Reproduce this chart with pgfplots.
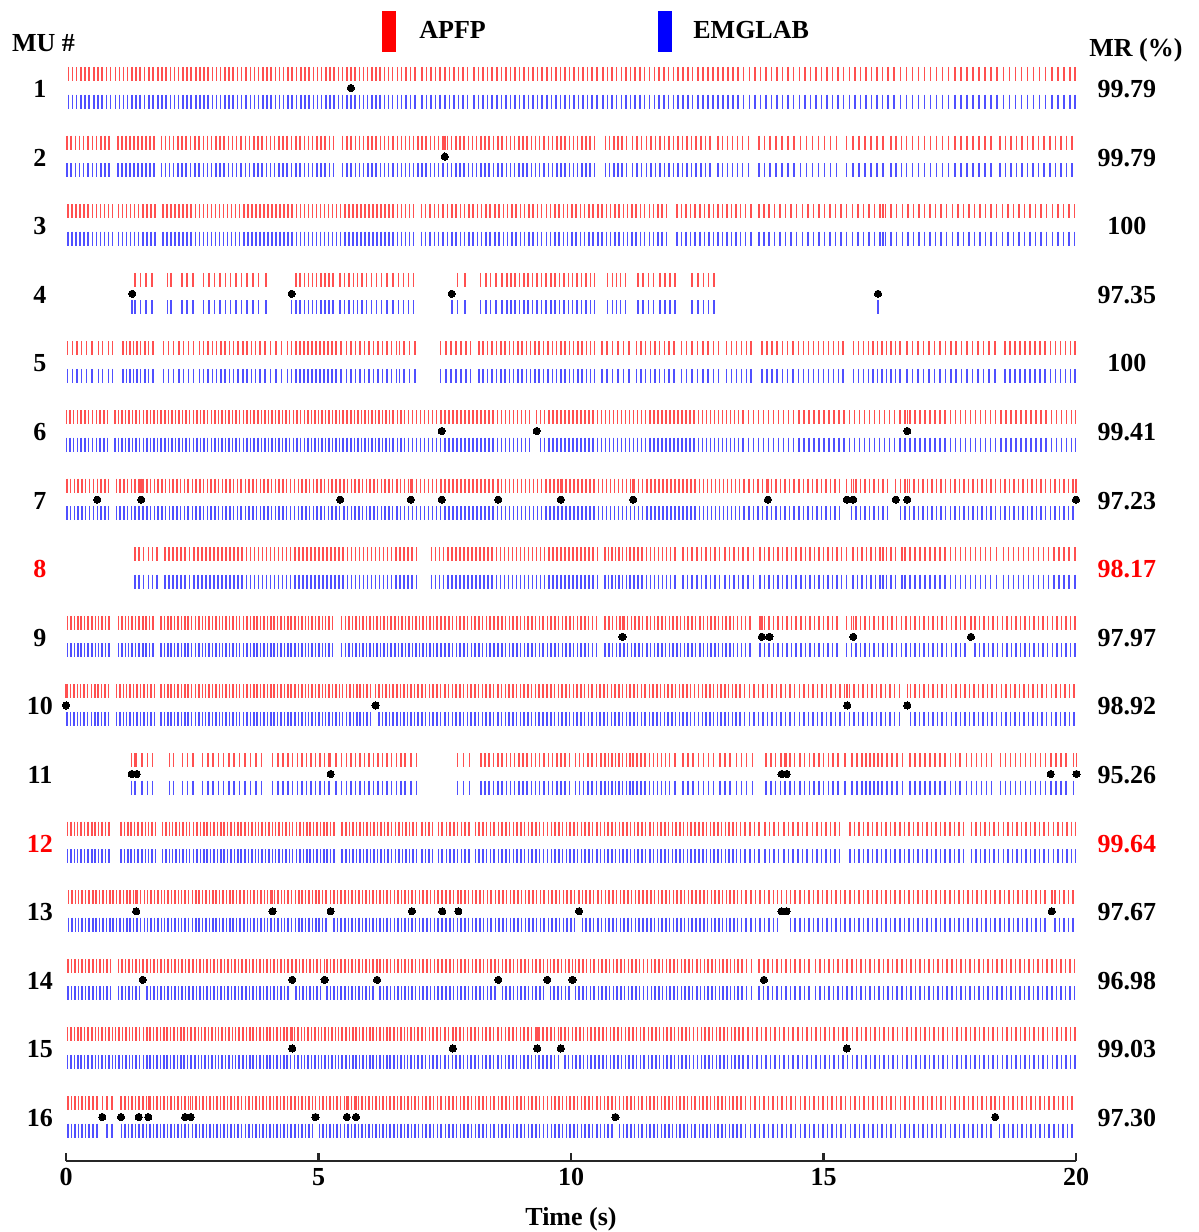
\documentclass[border=0pt]{standalone}
\usepackage{fontspec}
\setmainfont{Liberation Serif}
\usepackage{pgfplots}
\usepackage{pgfplotstable}
\pgfplotsset{compat=1.18}
\newcommand{\lf}{\fontsize{13}{15}\selectfont\bfseries}
\definecolor{tickred}{RGB}{255,80,80}
\definecolor{tickblue}{RGB}{80,80,255}
% spike times in centiseconds (1 unit = 0.01 s)
\pgfplotstableread[row sep=\\]{t\\5\\13\\21\\30\\38\\46\\55\\63\\71\\80\\88\\98\\106\\114\\122\\131\\139\\147\\155\\164\\172\\182\\190\\198\\207\\215\\223\\232\\240\\248\\257\\265\\273\\281\\290\\298\\306\\315\\323\\331\\340\\348\\356\\365\\373\\381\\390\\398\\406\\415\\423\\431\\440\\448\\456\\465\\473\\481\\490\\498\\506\\515\\523\\531\\540\\548\\556\\564\\572\\581\\589\\597\\606\\614\\622\\631\\639\\647\\656\\664\\673\\682\\691\\705\\714\\723\\732\\741\\750\\759\\768\\777\\786\\795\\808\\817\\826\\835\\844\\853\\862\\871\\880\\889\\898\\907\\916\\925\\934\\943\\952\\961\\970\\979\\988\\997\\1006\\1015\\1024\\1033\\1042\\1051\\1063\\1072\\1081\\1090\\1100\\1109\\1118\\1127\\1137\\1146\\1155\\1165\\1174\\1184\\1193\\1203\\1212\\1222\\1232\\1241\\1251\\1261\\1271\\1281\\1291\\1301\\1311\\1321\\1331\\1342\\1353\\1364\\1375\\1386\\1397\\1408\\1419\\1430\\1441\\1452\\1463\\1474\\1485\\1496\\1507\\1518\\1529\\1540\\1551\\1562\\1573\\1584\\1595\\1606\\1617\\1628\\1640\\1652\\1664\\1676\\1688\\1700\\1712\\1724\\1736\\1748\\1760\\1772\\1784\\1796\\1808\\1820\\1832\\1844\\1856\\1868\\1880\\1892\\1904\\1916\\1928\\1940\\1952\\1964\\1976\\1988\\1998\\}\muA
\pgfplotstableread[row sep=\\]{t\\2\\10\\19\\27\\35\\44\\52\\60\\69\\77\\85\\103\\111\\119\\127\\135\\143\\150\\158\\166\\174\\189\\197\\205\\213\\222\\230\\238\\247\\255\\263\\272\\280\\288\\297\\305\\313\\322\\330\\338\\347\\355\\363\\372\\380\\388\\397\\405\\413\\422\\430\\438\\447\\455\\463\\472\\480\\488\\497\\505\\513\\522\\530\\548\\556\\564\\573\\581\\589\\598\\606\\614\\623\\631\\639\\648\\656\\664\\672\\680\\688\\697\\705\\713\\722\\730\\738\\747\\755\\763\\772\\780\\788\\797\\805\\813\\822\\830\\838\\847\\855\\863\\872\\880\\888\\897\\905\\913\\922\\930\\938\\947\\955\\963\\972\\980\\988\\997\\1005\\1013\\1022\\1030\\1038\\1047\\1068\\1076\\1085\\1093\\1101\\1110\\1122\\1131\\1140\\1149\\1158\\1167\\1176\\1185\\1194\\1203\\1212\\1221\\1230\\1239\\1248\\1257\\1266\\1275\\1291\\1300\\1310\\1320\\1330\\1340\\1351\\1372\\1383\\1394\\1406\\1418\\1430\\1442\\1454\\1466\\1478\\1490\\1502\\1514\\1526\\1546\\1558\\1570\\1582\\1594\\1606\\1618\\1634\\1644\\1654\\1664\\1676\\1688\\1700\\1712\\1724\\1736\\1748\\1760\\1772\\1784\\1796\\1808\\1820\\1832\\1849\\1860\\1871\\1882\\1893\\1904\\1915\\1926\\1937\\1948\\1959\\1970\\1981\\1992\\}\muB
\pgfplotstableread[row sep=\\]{t\\4\\12\\20\\28\\36\\44\\52\\60\\68\\76\\84\\92\\104\\112\\120\\128\\136\\144\\152\\160\\168\\176\\192\\200\\208\\216\\224\\232\\240\\248\\256\\264\\272\\280\\288\\296\\304\\312\\320\\328\\336\\344\\352\\360\\368\\376\\384\\392\\400\\408\\416\\424\\432\\440\\448\\456\\464\\472\\480\\488\\496\\504\\512\\520\\528\\536\\544\\552\\560\\568\\576\\584\\592\\600\\608\\616\\624\\632\\640\\648\\656\\664\\672\\680\\688\\704\\712\\721\\730\\738\\747\\755\\764\\772\\781\\789\\798\\806\\815\\823\\832\\840\\849\\857\\866\\874\\883\\891\\900\\908\\917\\925\\934\\942\\951\\959\\968\\976\\985\\993\\1002\\1010\\1019\\1027\\1036\\1044\\1053\\1061\\1070\\1078\\1087\\1095\\1104\\1112\\1121\\1129\\1138\\1146\\1155\\1163\\1172\\1180\\1189\\1210\\1219\\1228\\1237\\1246\\1255\\1264\\1273\\1282\\1291\\1300\\1309\\1318\\1327\\1336\\1346\\1356\\1372\\1382\\1392\\1403\\1414\\1425\\1436\\1447\\1458\\1469\\1480\\1491\\1502\\1513\\1524\\1535\\1546\\1557\\1568\\1579\\1590\\1601\\1612\\1618\\1623\\1634\\1645\\1656\\1667\\1678\\1689\\1700\\1711\\1722\\1733\\1744\\1755\\1766\\1777\\1788\\1799\\1810\\1821\\1832\\1843\\1854\\1865\\1876\\1887\\1898\\1909\\1920\\1931\\1942\\1953\\1964\\1975\\1986\\1997\\}\muC
\pgfplotstableread[row sep=\\]{t\\137\\148\\158\\170\\201\\208\\230\\240\\251\\272\\283\\294\\305\\316\\326\\337\\348\\358\\370\\381\\396\\455\\463\\472\\480\\488\\496\\505\\513\\521\\529\\543\\551\\560\\569\\577\\586\\595\\605\\615\\625\\636\\648\\658\\668\\678\\688\\775\\790\\821\\832\\841\\851\\863\\873\\881\\889\\898\\907\\915\\924\\933\\942\\950\\960\\968\\977\\986\\995\\1003\\1012\\1021\\1030\\1039\\1047\\1072\\1082\\1090\\1098\\1108\\1133\\1143\\1153\\1163\\1176\\1186\\1196\\1206\\1240\\1251\\1262\\1272\\1283\\}\muD
\pgfplotstableread[row sep=\\]{t\\3\\13\\22\\31\\41\\51\\64\\72\\84\\92\\113\\120\\127\\134\\141\\148\\156\\163\\172\\193\\203\\213\\224\\233\\243\\252\\264\\272\\281\\290\\298\\307\\315\\324\\332\\341\\350\\358\\367\\375\\384\\394\\405\\416\\427\\439\\447\\455\\463\\471\\479\\487\\495\\503\\511\\519\\527\\535\\545\\555\\564\\573\\582\\591\\600\\609\\618\\627\\636\\645\\654\\660\\669\\680\\691\\742\\752\\762\\772\\782\\792\\801\\818\\826\\835\\844\\852\\861\\869\\878\\886\\895\\903\\912\\920\\929\\937\\946\\954\\963\\971\\980\\988\\997\\1005\\1014\\1022\\1031\\1039\\1047\\1061\\1071\\1082\\1093\\1104\\1115\\1130\\1139\\1148\\1157\\1166\\1175\\1185\\1194\\1204\\1219\\1229\\1240\\1250\\1261\\1271\\1282\\1292\\1308\\1318\\1328\\1338\\1348\\1356\\1378\\1388\\1398\\1408\\1419\\1429\\1440\\1450\\1460\\1470\\1480\\1490\\1500\\1510\\1520\\1530\\1539\\1559\\1569\\1579\\1589\\1598\\1607\\1616\\1625\\1634\\1643\\1651\\1665\\1676\\1687\\1698\\1709\\1720\\1731\\1742\\1752\\1762\\1773\\1784\\1795\\1806\\1817\\1828\\1840\\1859\\1869\\1879\\1889\\1899\\1909\\1919\\1929\\1939\\1949\\1959\\1969\\1979\\1989\\1998\\}\muE
\pgfplotstableread[row sep=\\]{t\\1\\8\\15\\23\\30\\38\\45\\52\\60\\67\\75\\82\\97\\104\\111\\118\\125\\132\\139\\146\\153\\160\\167\\174\\181\\188\\196\\203\\210\\217\\224\\231\\238\\245\\252\\259\\266\\273\\280\\288\\295\\302\\309\\316\\323\\330\\337\\344\\351\\358\\365\\372\\380\\387\\394\\401\\408\\415\\422\\429\\436\\443\\450\\457\\464\\472\\479\\486\\493\\500\\507\\514\\521\\528\\535\\542\\549\\556\\564\\571\\578\\585\\592\\599\\606\\613\\620\\627\\634\\641\\648\\656\\663\\670\\678\\686\\694\\702\\710\\718\\726\\734\\742\\750\\758\\766\\774\\782\\790\\798\\806\\814\\822\\830\\838\\846\\854\\862\\870\\878\\886\\894\\902\\910\\918\\940\\948\\956\\964\\972\\980\\988\\996\\1004\\1012\\1020\\1028\\1036\\1044\\1052\\1060\\1068\\1076\\1084\\1092\\1100\\1108\\1116\\1124\\1132\\1140\\1148\\1156\\1164\\1172\\1180\\1188\\1196\\1204\\1212\\1220\\1228\\1236\\1244\\1252\\1260\\1268\\1276\\1284\\1292\\1300\\1308\\1316\\1324\\1332\\1341\\1351\\1361\\1371\\1381\\1391\\1401\\1411\\1421\\1431\\1441\\1451\\1461\\1471\\1481\\1491\\1501\\1511\\1521\\1531\\1541\\1551\\1561\\1571\\1581\\1591\\1601\\1611\\1621\\1631\\1641\\1651\\1661\\1671\\1681\\1691\\1701\\1711\\1721\\1731\\1741\\1751\\1761\\1771\\1781\\1791\\1801\\1811\\1821\\1831\\1841\\1851\\1861\\1871\\1881\\1891\\1901\\1911\\1921\\1931\\1941\\1951\\1961\\1971\\1981\\1991\\1999\\}\muF
\pgfplotstableread[row sep=\\]{t\\2\\9\\17\\24\\32\\39\\47\\54\\62\\69\\77\\84\\100\\107\\115\\122\\130\\137\\145\\152\\160\\167\\175\\182\\190\\197\\205\\212\\220\\227\\235\\242\\250\\257\\265\\272\\280\\287\\295\\302\\310\\317\\325\\332\\340\\347\\355\\362\\370\\377\\385\\392\\400\\407\\415\\422\\430\\437\\445\\452\\460\\467\\475\\482\\490\\497\\505\\512\\520\\527\\535\\542\\550\\557\\565\\572\\580\\587\\595\\602\\610\\617\\625\\632\\640\\647\\655\\662\\670\\678\\686\\694\\702\\710\\718\\726\\734\\742\\750\\758\\766\\774\\782\\790\\798\\806\\814\\822\\830\\838\\846\\854\\862\\870\\878\\886\\894\\902\\910\\918\\926\\934\\942\\950\\958\\966\\974\\982\\990\\998\\1006\\1014\\1022\\1030\\1038\\1046\\1054\\1062\\1070\\1078\\1086\\1094\\1102\\1110\\1118\\1126\\1134\\1142\\1150\\1158\\1166\\1174\\1182\\1190\\1198\\1206\\1214\\1222\\1230\\1238\\1246\\1254\\1262\\1270\\1278\\1286\\1294\\1302\\1310\\1318\\1326\\1334\\1343\\1352\\1361\\1370\\1379\\1388\\1397\\1406\\1415\\1424\\1433\\1442\\1451\\1460\\1469\\1478\\1487\\1496\\1505\\1514\\1523\\1532\\1555\\1564\\1573\\1582\\1591\\1600\\1609\\1618\\1627\\1652\\1661\\1670\\1679\\1688\\1697\\1706\\1715\\1724\\1733\\1742\\1751\\1760\\1769\\1778\\1787\\1796\\1805\\1814\\1823\\1832\\1841\\1850\\1859\\1868\\1877\\1886\\1895\\1904\\1913\\1922\\1931\\1940\\1949\\1958\\1967\\1976\\1985\\1994\\}\muG
\pgfplotstableread[row sep=\\]{t\\137\\145\\153\\163\\171\\180\\196\\204\\212\\220\\228\\236\\245\\253\\261\\269\\277\\285\\293\\301\\309\\317\\325\\333\\341\\349\\357\\365\\373\\381\\389\\397\\405\\413\\421\\429\\437\\445\\453\\461\\469\\477\\485\\493\\501\\509\\517\\525\\533\\541\\549\\557\\565\\573\\581\\589\\597\\605\\613\\621\\629\\637\\645\\653\\661\\669\\677\\685\\694\\724\\732\\740\\748\\756\\764\\772\\780\\788\\796\\804\\812\\820\\828\\836\\844\\852\\860\\868\\876\\884\\892\\900\\908\\916\\924\\932\\940\\948\\956\\964\\972\\980\\988\\996\\1004\\1012\\1020\\1028\\1036\\1044\\1052\\1067\\1074\\1081\\1088\\1095\\1102\\1110\\1117\\1125\\1133\\1141\\1149\\1157\\1165\\1173\\1181\\1189\\1197\\1206\\1222\\1231\\1240\\1249\\1258\\1267\\1276\\1285\\1294\\1305\\1314\\1323\\1332\\1341\\1350\\1361\\1374\\1383\\1392\\1401\\1410\\1419\\1428\\1437\\1446\\1455\\1464\\1473\\1482\\1491\\1500\\1509\\1518\\1527\\1536\\1546\\1558\\1567\\1576\\1585\\1594\\1603\\1612\\1618\\1625\\1634\\1643\\1655\\1661\\1671\\1681\\1691\\1701\\1711\\1721\\1731\\1741\\1751\\1761\\1771\\1781\\1791\\1801\\1811\\1821\\1831\\1843\\1856\\1866\\1876\\1886\\1896\\1906\\1916\\1926\\1936\\1946\\1956\\1966\\1976\\1986\\1998\\}\muH
\pgfplotstableread[row sep=\\]{t\\3\\10\\17\\24\\30\\37\\44\\51\\58\\64\\71\\78\\85\\104\\111\\118\\124\\131\\138\\145\\152\\158\\165\\172\\188\\195\\202\\208\\215\\222\\229\\236\\242\\249\\256\\263\\270\\276\\283\\290\\297\\304\\310\\317\\324\\331\\338\\344\\351\\358\\365\\372\\378\\385\\392\\399\\406\\412\\419\\426\\433\\440\\446\\453\\460\\467\\474\\480\\487\\494\\501\\508\\514\\521\\528\\546\\553\\560\\567\\574\\581\\588\\595\\602\\609\\616\\623\\630\\637\\644\\651\\658\\665\\672\\679\\686\\693\\700\\707\\714\\721\\728\\735\\743\\750\\758\\765\\773\\780\\788\\795\\803\\810\\818\\825\\833\\840\\848\\855\\863\\870\\878\\885\\893\\900\\908\\915\\923\\930\\938\\945\\953\\960\\968\\975\\983\\990\\998\\1005\\1013\\1020\\1028\\1035\\1043\\1050\\1067\\1075\\1082\\1090\\1097\\1105\\1112\\1120\\1127\\1135\\1142\\1150\\1157\\1165\\1172\\1180\\1187\\1195\\1202\\1210\\1217\\1225\\1232\\1240\\1247\\1255\\1262\\1270\\1277\\1285\\1292\\1300\\1307\\1315\\1322\\1330\\1338\\1346\\1354\\1374\\1383\\1392\\1401\\1410\\1419\\1428\\1437\\1446\\1455\\1464\\1473\\1482\\1491\\1500\\1509\\1518\\1527\\1546\\1555\\1564\\1573\\1582\\1591\\1600\\1609\\1618\\1627\\1636\\1645\\1654\\1663\\1672\\1681\\1690\\1699\\1708\\1717\\1726\\1735\\1744\\1753\\1762\\1771\\1780\\1800\\1809\\1818\\1827\\1836\\1845\\1854\\1863\\1872\\1881\\1890\\1899\\1908\\1917\\1926\\1935\\1944\\1953\\1962\\1971\\1980\\1989\\1998\\}\muI
\pgfplotstableread[row sep=\\]{t\\2\\9\\16\\23\\29\\36\\43\\50\\57\\63\\70\\77\\84\\100\\107\\114\\120\\127\\134\\141\\148\\154\\161\\168\\175\\188\\195\\202\\208\\215\\222\\229\\236\\242\\249\\256\\263\\270\\276\\283\\290\\297\\304\\310\\317\\324\\331\\338\\344\\351\\358\\365\\372\\378\\385\\392\\399\\406\\412\\419\\426\\433\\440\\446\\453\\460\\467\\474\\480\\487\\494\\501\\508\\514\\521\\528\\535\\542\\548\\555\\562\\569\\576\\582\\589\\596\\603\\620\\627\\634\\641\\648\\655\\662\\669\\676\\683\\690\\697\\705\\712\\720\\727\\735\\742\\750\\757\\765\\772\\780\\787\\795\\802\\810\\817\\825\\832\\840\\847\\855\\862\\870\\877\\885\\892\\900\\907\\915\\922\\930\\937\\945\\952\\960\\967\\975\\982\\990\\997\\1005\\1012\\1020\\1027\\1035\\1042\\1050\\1057\\1065\\1072\\1080\\1087\\1095\\1102\\1110\\1117\\1125\\1132\\1140\\1147\\1155\\1162\\1170\\1177\\1185\\1192\\1200\\1207\\1215\\1222\\1230\\1237\\1245\\1252\\1260\\1267\\1275\\1282\\1290\\1297\\1305\\1312\\1320\\1327\\1335\\1344\\1353\\1362\\1371\\1380\\1389\\1398\\1407\\1416\\1425\\1434\\1443\\1452\\1461\\1470\\1479\\1488\\1497\\1506\\1515\\1524\\1533\\1542\\1551\\1560\\1569\\1578\\1587\\1596\\1605\\1614\\1623\\1632\\1641\\1650\\1672\\1681\\1690\\1699\\1708\\1717\\1726\\1735\\1744\\1753\\1762\\1771\\1780\\1789\\1798\\1807\\1816\\1825\\1834\\1843\\1852\\1861\\1870\\1879\\1888\\1897\\1906\\1915\\1924\\1933\\1942\\1951\\1960\\1969\\1978\\1987\\1996\\}\muJ
\pgfplotstableread[row sep=\\]{t\\130\\137\\150\\161\\171\\205\\213\\231\\241\\251\\270\\281\\291\\302\\312\\323\\333\\344\\354\\365\\376\\387\\409\\420\\430\\440\\449\\458\\467\\476\\485\\494\\503\\512\\521\\535\\546\\555\\564\\573\\582\\591\\600\\609\\618\\627\\636\\645\\654\\663\\671\\683\\694\\775\\787\\799\\822\\830\\838\\847\\855\\863\\872\\880\\888\\897\\905\\913\\922\\930\\938\\947\\955\\963\\972\\980\\988\\997\\1009\\1017\\1025\\1034\\1042\\1050\\1059\\1067\\1074\\1081\\1088\\1095\\1102\\1110\\1117\\1123\\1131\\1139\\1147\\1155\\1163\\1171\\1179\\1187\\1195\\1206\\1222\\1232\\1242\\1252\\1262\\1272\\1282\\1295\\1305\\1315\\1328\\1338\\1348\\1359\\1386\\1396\\1405\\1415\\1424\\1434\\1443\\1453\\1462\\1472\\1481\\1491\\1500\\1510\\1519\\1529\\1543\\1556\\1566\\1576\\1584\\1592\\1600\\1608\\1616\\1626\\1636\\1646\\1656\\1671\\1681\\1691\\1701\\1711\\1721\\1731\\1741\\1751\\1761\\1770\\1783\\1793\\1803\\1813\\1823\\1833\\1850\\1860\\1870\\1880\\1890\\1900\\1910\\1920\\1930\\1940\\1950\\1960\\1970\\1980\\1995\\}\muK
\pgfplotstableread[row sep=\\]{t\\3\\10\\17\\23\\30\\37\\44\\51\\57\\64\\71\\78\\85\\109\\116\\123\\129\\136\\143\\150\\157\\163\\170\\177\\191\\198\\205\\211\\218\\225\\232\\239\\245\\252\\259\\266\\273\\279\\286\\293\\300\\307\\313\\320\\327\\334\\341\\347\\354\\361\\368\\375\\381\\388\\395\\402\\409\\415\\422\\429\\436\\443\\449\\456\\463\\470\\477\\483\\490\\497\\504\\511\\517\\524\\531\\547\\554\\561\\568\\575\\582\\589\\596\\603\\610\\617\\624\\631\\638\\645\\652\\659\\666\\673\\680\\687\\694\\705\\712\\719\\726\\738\\745\\753\\760\\768\\775\\783\\790\\798\\811\\818\\826\\833\\841\\848\\856\\863\\871\\878\\886\\893\\901\\908\\916\\923\\931\\938\\946\\953\\961\\968\\976\\983\\991\\998\\1006\\1013\\1021\\1028\\1036\\1043\\1051\\1058\\1066\\1073\\1081\\1088\\1096\\1103\\1111\\1118\\1126\\1133\\1141\\1148\\1156\\1163\\1171\\1178\\1186\\1193\\1201\\1208\\1216\\1223\\1231\\1238\\1246\\1253\\1261\\1268\\1276\\1283\\1291\\1298\\1306\\1313\\1321\\1328\\1336\\1345\\1354\\1363\\1372\\1384\\1393\\1402\\1411\\1422\\1431\\1440\\1449\\1458\\1467\\1478\\1487\\1496\\1505\\1514\\1523\\1532\\1552\\1561\\1570\\1579\\1588\\1597\\1606\\1615\\1624\\1633\\1642\\1651\\1660\\1669\\1678\\1687\\1696\\1705\\1714\\1723\\1732\\1741\\1750\\1759\\1768\\1777\\1793\\1802\\1811\\1820\\1829\\1838\\1847\\1856\\1865\\1874\\1883\\1892\\1901\\1910\\1919\\1928\\1937\\1946\\1955\\1964\\1973\\1982\\1991\\1999\\}\muL
\pgfplotstableread[row sep=\\]{t\\5\\12\\19\\25\\32\\39\\46\\53\\59\\66\\73\\80\\87\\93\\100\\107\\114\\121\\127\\134\\141\\148\\155\\161\\168\\175\\182\\189\\195\\202\\209\\216\\223\\229\\236\\243\\250\\257\\263\\270\\277\\284\\291\\297\\304\\311\\318\\325\\331\\338\\345\\352\\359\\365\\372\\379\\386\\393\\399\\406\\413\\420\\427\\433\\440\\447\\454\\461\\467\\474\\481\\488\\495\\501\\508\\515\\531\\538\\545\\552\\559\\566\\573\\580\\587\\594\\601\\608\\615\\622\\629\\636\\643\\650\\657\\664\\671\\678\\685\\692\\700\\707\\715\\722\\730\\737\\745\\752\\760\\767\\775\\782\\790\\797\\805\\812\\820\\827\\835\\842\\850\\857\\865\\872\\880\\887\\895\\902\\910\\917\\925\\932\\940\\947\\955\\962\\970\\977\\985\\992\\1000\\1007\\1023\\1030\\1038\\1045\\1053\\1060\\1068\\1075\\1083\\1090\\1098\\1105\\1113\\1120\\1128\\1135\\1143\\1150\\1158\\1165\\1173\\1180\\1188\\1195\\1203\\1210\\1218\\1225\\1233\\1240\\1248\\1255\\1263\\1270\\1278\\1285\\1293\\1300\\1308\\1315\\1323\\1330\\1338\\1347\\1356\\1365\\1374\\1383\\1392\\1401\\1409\\1435\\1444\\1453\\1462\\1471\\1480\\1489\\1498\\1507\\1516\\1525\\1534\\1543\\1552\\1561\\1570\\1579\\1588\\1597\\1606\\1615\\1624\\1633\\1642\\1651\\1660\\1669\\1678\\1687\\1696\\1705\\1714\\1723\\1732\\1741\\1750\\1759\\1768\\1777\\1786\\1795\\1804\\1813\\1822\\1831\\1840\\1849\\1858\\1867\\1876\\1885\\1894\\1903\\1912\\1921\\1930\\1939\\1958\\1967\\1976\\1985\\1994\\}\muM
\pgfplotstableread[row sep=\\]{t\\4\\11\\18\\25\\32\\39\\46\\53\\60\\67\\74\\81\\88\\104\\111\\118\\125\\132\\139\\146\\160\\167\\174\\181\\188\\195\\202\\209\\216\\223\\230\\237\\244\\251\\258\\265\\272\\279\\286\\293\\300\\307\\314\\321\\328\\335\\342\\349\\356\\363\\370\\377\\384\\391\\398\\405\\412\\419\\426\\433\\440\\455\\462\\469\\476\\483\\490\\497\\504\\517\\524\\531\\538\\545\\552\\559\\566\\573\\580\\587\\594\\601\\608\\622\\629\\636\\643\\650\\657\\664\\671\\678\\685\\692\\700\\707\\715\\722\\730\\737\\745\\752\\760\\767\\775\\782\\790\\797\\805\\812\\820\\827\\835\\842\\849\\864\\871\\879\\886\\894\\901\\909\\916\\924\\931\\939\\946\\959\\966\\974\\981\\989\\996\\1009\\1016\\1024\\1031\\1039\\1046\\1054\\1061\\1069\\1076\\1084\\1091\\1099\\1106\\1114\\1121\\1129\\1136\\1144\\1151\\1159\\1166\\1174\\1181\\1189\\1196\\1204\\1211\\1219\\1226\\1234\\1241\\1249\\1256\\1264\\1271\\1279\\1286\\1294\\1301\\1309\\1316\\1324\\1331\\1339\\1348\\1357\\1372\\1381\\1390\\1399\\1408\\1417\\1426\\1435\\1444\\1453\\1462\\1471\\1484\\1493\\1502\\1511\\1520\\1529\\1538\\1547\\1556\\1565\\1574\\1583\\1592\\1601\\1610\\1619\\1628\\1637\\1646\\1655\\1664\\1673\\1682\\1691\\1700\\1709\\1718\\1727\\1736\\1745\\1754\\1763\\1772\\1781\\1790\\1799\\1808\\1817\\1826\\1835\\1844\\1853\\1862\\1871\\1880\\1889\\1898\\1907\\1916\\1925\\1934\\1943\\1952\\1961\\1970\\1979\\1988\\1997\\}\muN
\pgfplotstableread[row sep=\\]{t\\3\\10\\17\\24\\30\\37\\44\\51\\58\\64\\71\\78\\85\\92\\98\\105\\112\\119\\126\\132\\139\\146\\153\\160\\166\\173\\180\\187\\194\\200\\207\\214\\221\\228\\234\\241\\248\\255\\262\\268\\275\\282\\289\\296\\302\\309\\316\\323\\330\\336\\343\\350\\357\\364\\370\\377\\384\\391\\398\\404\\411\\418\\425\\432\\438\\445\\452\\459\\466\\472\\479\\486\\493\\500\\506\\513\\520\\527\\534\\540\\547\\554\\561\\568\\574\\581\\588\\595\\602\\608\\615\\622\\629\\636\\642\\649\\656\\663\\670\\676\\683\\690\\697\\705\\712\\720\\727\\735\\742\\750\\757\\765\\772\\780\\787\\795\\802\\810\\817\\825\\832\\840\\847\\855\\862\\870\\877\\885\\892\\900\\907\\915\\922\\930\\937\\945\\952\\960\\967\\975\\988\\995\\1003\\1010\\1018\\1025\\1033\\1040\\1048\\1055\\1063\\1070\\1078\\1085\\1093\\1100\\1108\\1115\\1123\\1130\\1138\\1145\\1153\\1160\\1168\\1175\\1183\\1190\\1198\\1205\\1213\\1220\\1228\\1235\\1243\\1250\\1258\\1265\\1273\\1280\\1288\\1295\\1303\\1310\\1318\\1325\\1333\\1341\\1350\\1359\\1368\\1377\\1386\\1395\\1404\\1413\\1422\\1431\\1440\\1449\\1458\\1467\\1476\\1485\\1494\\1503\\1512\\1521\\1530\\1539\\1548\\1557\\1566\\1575\\1584\\1593\\1602\\1611\\1620\\1629\\1638\\1647\\1656\\1665\\1674\\1683\\1692\\1701\\1710\\1719\\1728\\1737\\1746\\1755\\1764\\1773\\1782\\1791\\1800\\1809\\1818\\1827\\1836\\1845\\1854\\1863\\1872\\1881\\1890\\1899\\1908\\1917\\1926\\1935\\1944\\1953\\1962\\1971\\1980\\1989\\1998\\}\muO
\pgfplotstableread[row sep=\\]{t\\4\\11\\18\\25\\32\\39\\46\\53\\61\\81\\91\\110\\117\\124\\131\\138\\145\\152\\159\\166\\173\\180\\187\\194\\201\\208\\215\\222\\229\\236\\243\\250\\257\\264\\271\\278\\285\\292\\299\\306\\313\\320\\327\\334\\341\\348\\355\\362\\369\\376\\383\\390\\397\\404\\411\\418\\425\\432\\439\\446\\453\\460\\467\\474\\481\\488\\502\\509\\516\\523\\530\\537\\544\\551\\558\\565\\572\\579\\586\\593\\600\\607\\614\\621\\628\\635\\642\\649\\656\\663\\670\\677\\684\\691\\698\\706\\713\\721\\728\\736\\743\\751\\758\\766\\773\\781\\788\\796\\803\\811\\818\\826\\833\\841\\848\\856\\863\\871\\878\\886\\893\\901\\908\\916\\923\\931\\938\\946\\953\\961\\968\\976\\983\\991\\998\\1006\\1013\\1021\\1028\\1036\\1043\\1051\\1058\\1066\\1073\\1081\\1096\\1104\\1111\\1119\\1126\\1134\\1141\\1149\\1156\\1164\\1171\\1179\\1186\\1194\\1201\\1209\\1216\\1224\\1231\\1239\\1246\\1254\\1261\\1269\\1276\\1284\\1291\\1299\\1306\\1314\\1321\\1329\\1337\\1346\\1355\\1364\\1373\\1382\\1391\\1400\\1409\\1418\\1427\\1436\\1445\\1454\\1463\\1472\\1481\\1490\\1499\\1508\\1517\\1526\\1535\\1544\\1553\\1562\\1571\\1580\\1589\\1598\\1607\\1616\\1625\\1634\\1643\\1652\\1661\\1670\\1679\\1688\\1697\\1706\\1715\\1724\\1733\\1742\\1751\\1760\\1769\\1778\\1787\\1796\\1805\\1814\\1823\\1832\\1848\\1857\\1866\\1875\\1884\\1893\\1902\\1911\\1920\\1929\\1938\\1947\\1956\\1965\\1974\\1983\\1992\\}\muP
% mismatch markers (centiseconds)
\pgfplotstableread[row sep=\\]{t\\564\\}\dA
\pgfplotstableread[row sep=\\]{t\\750\\}\dB
\pgfplotstableread[row sep=\\]{t\\131\\447\\764\\1608\\}\dD
\pgfplotstableread[row sep=\\]{t\\744\\932\\1666\\}\dF
\pgfplotstableread[row sep=\\]{t\\62\\149\\543\\683\\744\\856\\980\\1123\\1390\\1546\\1559\\1643\\1666\\2000\\}\dG
\pgfplotstableread[row sep=\\]{t\\1102\\1378\\1393\\1559\\1792\\}\dI
\pgfplotstableread[row sep=\\]{t\\0\\613\\1547\\1666\\}\dJ
\pgfplotstableread[row sep=\\]{t\\130\\140\\524\\1417\\1427\\1950\\2001\\}\dK
\pgfplotstableread[row sep=\\]{t\\139\\409\\524\\685\\745\\777\\1016\\1417\\1427\\1952\\}\dM
\pgfplotstableread[row sep=\\]{t\\152\\448\\512\\616\\856\\953\\1003\\1382\\}\dN
\pgfplotstableread[row sep=\\]{t\\448\\766\\933\\980\\1546\\}\dO
\pgfplotstableread[row sep=\\]{t\\72\\109\\144\\163\\236\\247\\494\\556\\574\\1088\\1840\\}\dP

\pgfplotsset{
  rtick/.style={only marks, mark=|, mark size=3.5pt, draw=tickred, color=tickred, mark options={draw=tickred, color=tickred, line width=0.75pt}},
  btick/.style={only marks, mark=|, mark size=3.5pt, draw=tickblue, color=tickblue, mark options={draw=tickblue, color=tickblue, line width=0.75pt}},
  dotm/.style={only marks, mark=*, mark size=1.8pt, color=black, mark options={fill=black, draw=black, line width=0pt}},
}
\newcommand{\murow}[2]{%
  \addplot[rtick] table[x index=0, y index=0, y expr={-#1+0.204}] {#2};
  \addplot[btick] table[x index=0, y index=0, y expr={-#1-0.197}] {#2};
}
\newcommand{\mudots}[2]{%
  \addplot[rtick] table[x index=0, y index=0, y expr={-#1+0.204}] {#2};
  \addplot[dotm] table[x index=0, y index=0, y expr={-#1}] {#2};
}
\newcommand{\rowlab}[3]{%
  \node[font=\lf, text=#3, anchor=base, inner sep=0pt] at (axis cs:-51.5,-#1-0.1385) {#1};
  \node[font=\lf, text=#3, anchor=base, inner sep=0pt] at (axis cs:2100.9,-#1-0.1385) {#2};
}

\begin{document}
\begin{tikzpicture}
\begin{axis}[
  scale only axis, width=505pt, height=553.65pt,
  xmin=0, xmax=2000, ymin=-16.641, ymax=-0.5,
  clip=false,
  axis x line*=bottom, axis y line=none,
  ytick=\empty,
  xtick={0,500,1000,1500,2000}, xticklabels={0,5,10,15,20},
  /pgf/number format/assume math mode=true,
  xticklabel style={font=\lf},
  tick align=inside, major tick length=4pt,
  x axis line style={line width=1.3pt, black!85},
  xtick style={line width=1.1pt, black!85},
]
\murow{1}{\muA}\murow{2}{\muB}\murow{3}{\muC}\murow{4}{\muD}
\murow{5}{\muE}\murow{6}{\muF}\murow{7}{\muG}\murow{8}{\muH}
\murow{9}{\muI}\murow{10}{\muJ}\murow{11}{\muK}\murow{12}{\muL}
\murow{13}{\muM}\murow{14}{\muN}\murow{15}{\muO}\murow{16}{\muP}
% row 4: mismatches are EMGLAB-only spikes
\addplot[btick] table[x index=0, y index=0, y expr={-4-0.197}] {\dD};
\addplot[dotm] table[x index=0, y index=0, y expr={-4}] {\dD};
\mudots{1}{\dA}\mudots{2}{\dB}\mudots{6}{\dF}\mudots{7}{\dG}
\mudots{9}{\dI}\mudots{10}{\dJ}\mudots{11}{\dK}\mudots{13}{\dM}
\mudots{14}{\dN}\mudots{15}{\dO}\mudots{16}{\dP}
% row labels and matching rates
\rowlab{1}{99.79}{black}\rowlab{2}{99.79}{black}\rowlab{3}{100}{black}\rowlab{4}{97.35}{black}
\rowlab{5}{100}{black}\rowlab{6}{99.41}{black}\rowlab{7}{97.23}{black}\rowlab{8}{98.17}{red}
\rowlab{9}{97.97}{black}\rowlab{10}{98.92}{black}\rowlab{11}{95.26}{black}\rowlab{12}{99.64}{red}
\rowlab{13}{97.67}{black}\rowlab{14}{96.98}{black}\rowlab{15}{99.03}{black}\rowlab{16}{97.30}{black}
\node[font=\lf, anchor=base, inner sep=0pt] at (axis cs:-44.6,-0.475) {MU \#};
\node[font=\lf, anchor=base, inner sep=0pt] at (axis cs:2118.6,-0.548) {MR (\%)};
\node[font=\lf, anchor=base, inner sep=0pt] at (axis cs:1000,-17.574) {Time (s)};
% legend
\fill[red] (axis cs:625.7,0.1224) rectangle (axis cs:653.4,-0.475);
\node[font=\lf, anchor=base west, inner sep=0pt] at (axis cs:699,-0.2857) {APFP};
\fill[blue] (axis cs:1172.2,0.1224) rectangle (axis cs:1199.9,-0.475);
\node[font=\lf, anchor=base west, inner sep=0pt] at (axis cs:1241.5,-0.2857) {EMGLAB};
% page frame
\path (axis cs:-130.7,0.2828) rectangle (axis cs:2241.6,-17.676);
\end{axis}
\end{tikzpicture}
\end{document}
